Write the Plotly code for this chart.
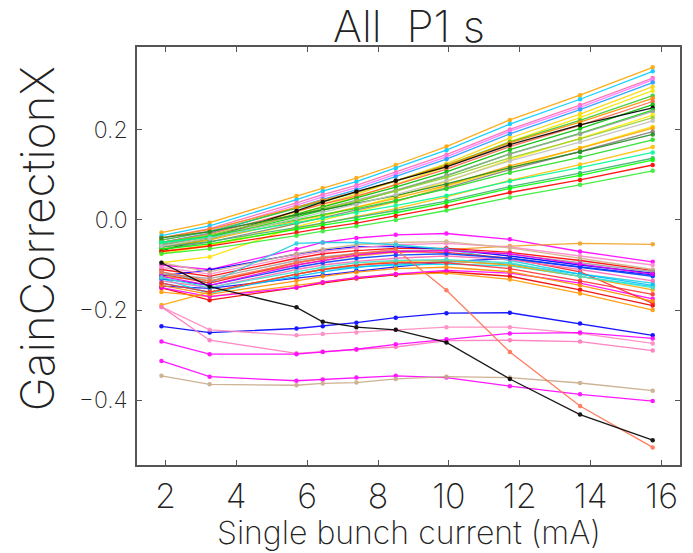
import plotly.graph_objects as go

# Single bunch current (mA) at which each P1 was measured
current_ma = [1.89, 3.25, 5.70, 6.44, 7.39, 8.50, 9.93, 11.72, 13.70, 15.75]

x_ticks = [2, 4, 6, 8, 10, 12, 14, 16]
y_ticks = [-0.4, -0.2, 0.0, 0.2]

# Upper bundle: GainCorrectionX rising with current
upper_values = [
    [-0.028, -0.006, 0.053, 0.071, 0.093, 0.122, 0.163, 0.222, 0.277, 0.339],
    [-0.035, -0.013, 0.045, 0.064, 0.085, 0.115, 0.155, 0.213, 0.268, 0.330],
    [-0.040, -0.019, 0.038, 0.056, 0.077, 0.106, 0.145, 0.201, 0.255, 0.315],
    [-0.045, -0.024, 0.033, 0.051, 0.072, 0.101, 0.140, 0.197, 0.250, 0.311],
    [-0.050, -0.029, 0.028, 0.046, 0.067, 0.096, 0.135, 0.191, 0.245, 0.305],
    [-0.060, -0.039, 0.018, 0.036, 0.057, 0.086, 0.125, 0.182, 0.235, 0.296],
    [-0.065, -0.044, 0.012, 0.030, 0.051, 0.079, 0.118, 0.174, 0.227, 0.287],
    [-0.045, -0.026, 0.026, 0.042, 0.061, 0.087, 0.122, 0.173, 0.221, 0.276],
    [-0.040, -0.021, 0.028, 0.044, 0.062, 0.087, 0.121, 0.171, 0.217, 0.270],
    [-0.050, -0.031, 0.019, 0.035, 0.053, 0.078, 0.113, 0.163, 0.210, 0.263],
    [-0.055, -0.036, 0.013, 0.029, 0.048, 0.073, 0.107, 0.156, 0.203, 0.256],
    [-0.068, -0.040, 0.020, 0.040, 0.063, 0.087, 0.118, 0.167, 0.211, 0.249],
    [-0.060, -0.042, 0.007, 0.022, 0.040, 0.065, 0.098, 0.147, 0.192, 0.244],
    [-0.055, -0.037, 0.010, 0.025, 0.043, 0.066, 0.099, 0.146, 0.191, 0.241],
    [-0.075, -0.057, -0.007, 0.008, 0.027, 0.051, 0.085, 0.134, 0.181, 0.233],
    [-0.050, -0.033, 0.011, 0.025, 0.041, 0.064, 0.094, 0.138, 0.180, 0.227],
    [-0.095, -0.082, -0.015, 0.000, 0.018, 0.040, 0.075, 0.115, 0.160, 0.207],
    [-0.060, -0.044, -0.002, 0.011, 0.027, 0.048, 0.077, 0.120, 0.159, 0.204],
    [-0.065, -0.049, -0.008, 0.005, 0.021, 0.042, 0.071, 0.112, 0.152, 0.196],
    [-0.050, -0.036, 0.000, 0.012, 0.025, 0.043, 0.069, 0.105, 0.139, 0.178],
    [-0.070, -0.056, -0.019, -0.007, 0.007, 0.025, 0.051, 0.088, 0.123, 0.162],
    [-0.060, -0.048, -0.017, -0.007, 0.005, 0.021, 0.042, 0.074, 0.104, 0.137],
    [-0.065, -0.053, -0.021, -0.012, 0.000, 0.016, 0.038, 0.070, 0.099, 0.133],
    [-0.070, -0.058, -0.028, -0.018, -0.007, 0.009, 0.030, 0.061, 0.089, 0.122],
    [-0.075, -0.064, -0.035, -0.025, -0.014, 0.000, 0.021, 0.050, 0.078, 0.109],
    [-0.050, -0.038, -0.006, 0.004, 0.016, 0.032, 0.054, 0.086, 0.116, 0.150],
    [-0.040, -0.026, 0.011, 0.022, 0.036, 0.054, 0.080, 0.116, 0.151, 0.190],
    [-0.058, -0.041, 0.003, 0.017, 0.034, 0.056, 0.087, 0.131, 0.173, 0.220],
]
upper_colors = [
    "#FFA500", "#00CCFF", "#FF69B4", "#FF77FF", "#1E9FFF", "#FFD700", "#F5E600",
    "#32CD32", "#FF8C00", "#FF6347", "#00C000", "#000000", "#00DD00", "#A0A0A0",
    "#FFEE00", "#9ACD32", "#FFE000", "#FFA500", "#808080", "#22DD22", "#FFC000",
    "#3CB371", "#00FF00", "#FF0000", "#33EE33", "#00FA9A", "#228B22", "#C0C0C0",
]

# Middle bundle: rising then falling
middle_values = [
    [-0.100, -0.110, -0.065, -0.050, -0.040, -0.033, -0.030, -0.043, -0.070, -0.093],
    [-0.125, -0.135, -0.100, -0.090, -0.080, -0.072, -0.066, -0.058, -0.052, -0.054],
    [-0.110, -0.125, -0.085, -0.075, -0.068, -0.063, -0.063, -0.072, -0.090, -0.112],
    [-0.124, -0.111, -0.076, -0.067, -0.059, -0.059, -0.065, -0.080, -0.100, -0.118],
    [-0.147, -0.152, -0.129, -0.122, -0.113, -0.104, -0.093, -0.085, -0.104, -0.122],
    [-0.130, -0.163, -0.120, -0.110, -0.104, -0.100, -0.098, -0.102, -0.125, -0.148],
    [-0.151, -0.178, -0.150, -0.140, -0.130, -0.122, -0.115, -0.125, -0.155, -0.190],
    [-0.160, -0.170, -0.145, -0.138, -0.128, -0.120, -0.118, -0.132, -0.163, -0.200],
    [-0.105, -0.120, -0.080, -0.070, -0.062, -0.055, -0.052, -0.060, -0.080, -0.100],
    [-0.095, -0.115, -0.075, -0.065, -0.055, -0.050, -0.048, -0.062, -0.085, -0.110],
    [-0.115, -0.140, -0.052, -0.050, -0.050, -0.055, -0.065, -0.090, -0.120, -0.140],
    [-0.150, -0.170, -0.150, -0.138, -0.128, -0.120, -0.112, -0.118, -0.140, -0.175],
    [-0.120, -0.140, -0.095, -0.085, -0.075, -0.070, -0.072, -0.085, -0.115, -0.185],
    [-0.135, -0.150, -0.110, -0.100, -0.092, -0.085, -0.080, -0.088, -0.110, -0.135],
    [-0.140, -0.160, -0.125, -0.115, -0.105, -0.098, -0.092, -0.098, -0.120, -0.145],
    [-0.145, -0.165, -0.135, -0.125, -0.116, -0.108, -0.105, -0.115, -0.145, -0.180],
    [-0.120, -0.130, -0.090, -0.082, -0.074, -0.068, -0.066, -0.076, -0.095, -0.115],
    [-0.130, -0.145, -0.105, -0.095, -0.085, -0.078, -0.075, -0.085, -0.105, -0.125],
    [-0.189, -0.160, -0.120, -0.110, -0.100, -0.092, -0.090, -0.100, -0.125, -0.155],
    [-0.125, -0.145, -0.100, -0.090, -0.078, -0.070, -0.068, -0.075, -0.098, -0.120],
    [-0.140, -0.160, -0.120, -0.110, -0.100, -0.095, -0.095, -0.108, -0.135, -0.165],
    [-0.128, -0.150, -0.115, -0.105, -0.095, -0.090, -0.088, -0.095, -0.125, -0.150],
]
middle_colors = [
    "#FF00FF", "#F0A020", "#FF0000", "#0000FF", "#1010FF", "#00E5EE", "#EE0000",
    "#FF9900", "#FF88CC", "#D2B48C", "#20D0E0", "#FF00FF", "#FF2020", "#FF69B4",
    "#00BFFF", "#FF8C00", "#A0A0A0", "#0040FF", "#FFA500", "#EE00EE", "#FF3030",
    "#40E0D0",
]

# Lower, separated P1s
lower_values = [
    [-0.236, -0.250, -0.241, -0.236, -0.228, -0.217, -0.207, -0.206, -0.230, -0.256],
    [-0.193, -0.244, -0.256, -0.253, -0.250, -0.244, -0.238, -0.238, -0.252, -0.274],
    [-0.193, -0.267, -0.296, -0.292, -0.288, -0.282, -0.268, -0.267, -0.270, -0.290],
    [-0.270, -0.298, -0.298, -0.293, -0.287, -0.276, -0.265, -0.252, -0.250, -0.263],
    [-0.313, -0.348, -0.357, -0.354, -0.350, -0.346, -0.350, -0.369, -0.387, -0.402],
    [-0.346, -0.365, -0.367, -0.363, -0.361, -0.353, -0.348, -0.350, -0.362, -0.379],
    [-0.115, -0.135, -0.095, -0.085, -0.075, -0.065, -0.156, -0.293, -0.413, -0.505],
    [-0.095, -0.148, -0.194, -0.226, -0.238, -0.244, -0.272, -0.353, -0.432, -0.489],
]
lower_colors = ["#0000FF", "#FF88C0", "#FF77BB", "#FF00FF", "#FF00FF", "#C8AA88",
                "#FF7050", "#000000"]

fig = go.Figure()
for vals, col in zip(upper_values + middle_values + lower_values,
                     upper_colors + middle_colors + lower_colors):
    fig.add_trace(go.Scatter(
        x=current_ma, y=vals, mode="lines+markers",
        line=dict(color=col, width=1.3),
        marker=dict(color=col, size=4.5),
        opacity=0.9, showlegend=False, hoverinfo="skip",
    ))

FONT = "Inter"
W = 200
TXT = "#222"
axis_common = dict(
    showgrid=False, zeroline=False, showline=True, linecolor="#555",
    linewidth=1.5, mirror="allticks", ticks="inside", ticklen=5,
    tickcolor="#555", tickwidth=1,
)
fig.update_xaxes(range=[1.2, 16.52], tickvals=x_ticks,
                 tickfont=dict(family=FONT, size=34, color=TXT, weight=W),
                 **axis_common)
fig.update_yaxes(range=[-0.544, 0.384], tickvals=y_ticks, tickformat=".1f",
                 tickfont=dict(family=FONT, size=23, color=TXT, weight=W),
                 ticklabelstandoff=3, **axis_common)

fig.update_layout(
    width=693, height=553,
    margin=dict(l=137, r=13, t=47, b=88),
    paper_bgcolor="white", plot_bgcolor="white",
    annotations=[
        dict(text="All  P1 s", x=0.5, xref="paper", y=1, yref="paper",
             yshift=-8, xanchor="center", yanchor="bottom", showarrow=False,
             font=dict(family=FONT, size=44, color=TXT, weight=W)),
        dict(text="GainCorrectionX", x=0, xref="paper", y=0.54, yref="paper",
             xshift=-100, xanchor="center", yanchor="middle", textangle=-90,
             showarrow=False, font=dict(family=FONT, size=46, color=TXT, weight=W)),
        dict(text="Single bunch current (mA)", x=0.5, xref="paper", y=0,
             yref="paper", yshift=-46, xanchor="center", yanchor="top",
             showarrow=False, font=dict(family=FONT, size=32, color=TXT, weight=W)),
    ],
)

fig.write_html("out.html",
               config={"displayModeBar": False},
               post_script="document.body.style.margin='0';"
                           "document.body.style.overflow='hidden';")
